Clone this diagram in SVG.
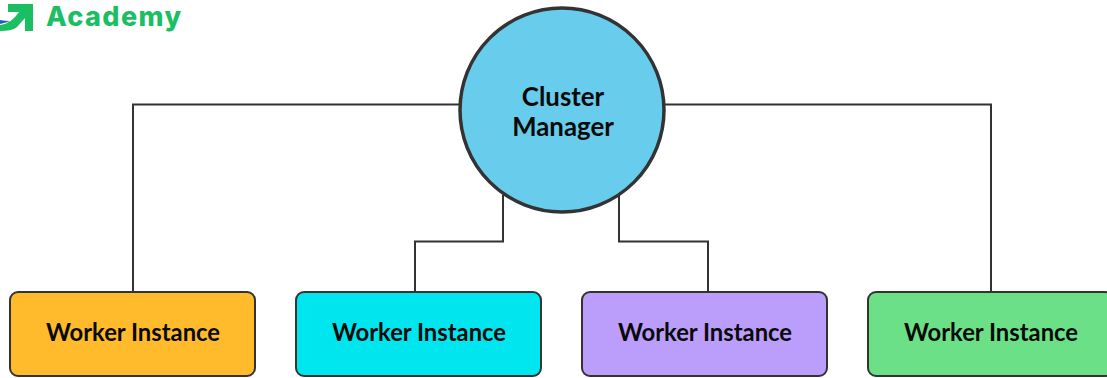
<svg xmlns="http://www.w3.org/2000/svg" width="1107" height="378" viewBox="0 0 1107 378">
<style>
.box{stroke:#333;stroke-width:2}
.wire{fill:none;stroke:#333;stroke-width:2}
text{font-family:"Lato","Open Sans",sans-serif;font-weight:700;fill:#0a0a0a;text-anchor:middle}
.w{font-size:23.8px}
.c{font-size:25.8px}
.a{font-family:"Inter","Open Sans",sans-serif;font-size:27px;font-weight:800;letter-spacing:1.4px;fill:#1bbf63;text-anchor:start}
</style>
<rect width="1107" height="378" fill="#fff"/>
<g id="logo">
<path d="M8 4H33V31H25V18L17 27Q13 31 0 31V25Q11 24 19 12H8Z" fill="#1bbf63"/>
<path d="M0 20Q5 21 10 21Q5 23 0 24Z" fill="#1f5fa8"/>
<text class="a" x="46" y="26">Academy</text>
</g>
<g id="connectors">
<path class="wire" d="M460 104.500H133V292"/>
<path class="wire" d="M664 104.500H991V292"/>
<path class="wire" d="M503 195V241.500H415V292"/>
<path class="wire" d="M619 195V241.500H708V292"/>
</g>
<g id="cluster-manager">
<circle class="box" cx="562" cy="110" r="102" style="stroke-width:3.5" fill="#68ccec"/>
<text class="c" x="563" y="105.500">Cluster</text>
<text class="c" x="563" y="135.500">Manager</text>
</g>
<g id="worker-1"><rect class="box" x="10" y="292" width="245" height="84" rx="8" fill="#ffbb2c"/><text class="w" x="133" y="340.500">Worker Instance</text></g>
<g id="worker-2"><rect class="box" x="296" y="292" width="245" height="84" rx="8" fill="#00e6ee"/><text class="w" x="419" y="340.500">Worker Instance</text></g>
<g id="worker-3"><rect class="box" x="582" y="292" width="245" height="84" rx="8" fill="#bb9dfb"/><text class="w" x="705" y="340.500">Worker Instance</text></g>
<g id="worker-4"><rect class="box" x="868" y="292" width="245" height="84" rx="8" fill="#6be087"/><text class="w" x="991" y="340.500">Worker Instance</text></g>
</svg>
